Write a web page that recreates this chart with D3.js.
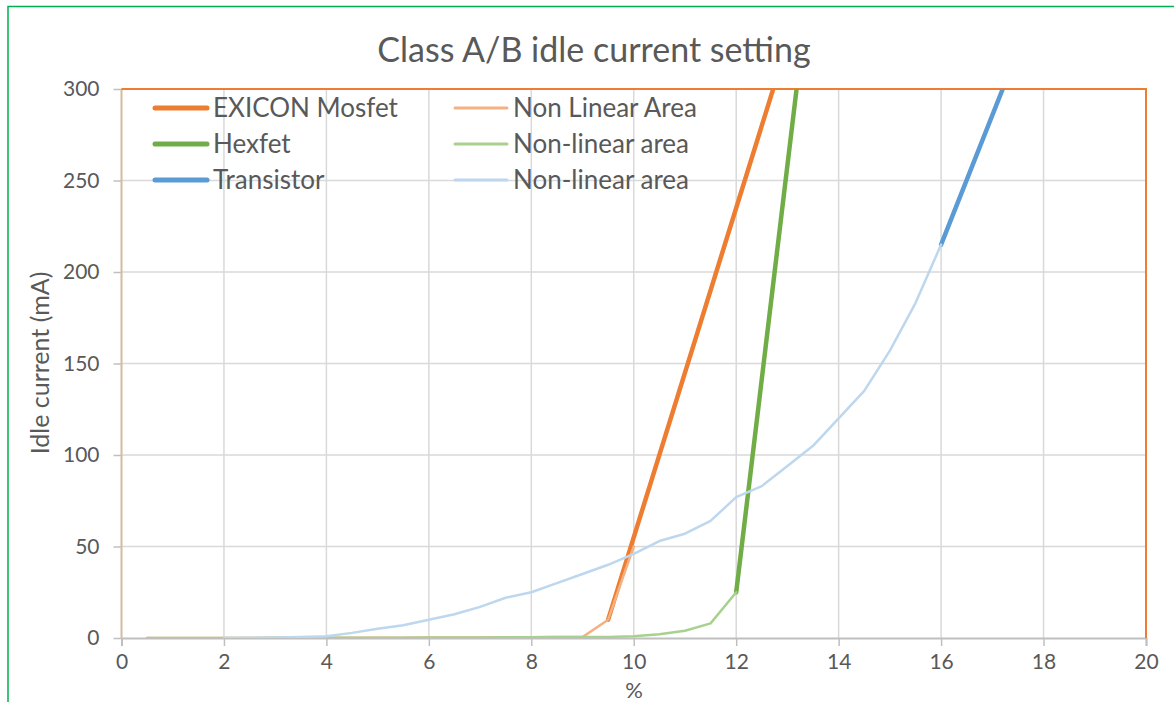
<!DOCTYPE html>
<html>
<head>
<meta charset="utf-8">
<script src="https://cdn.jsdelivr.net/npm/d3@7"></script>
<style>
  html, body { margin: 0; padding: 0; background: #fff; }
  svg { display: block; }
  text { font-family: Lato, "Carlito", "Liberation Sans", sans-serif; fill: #595959; }
</style>
</head>
<body>
<svg id="chart" width="1174" height="702"></svg>
<script>
// Series data: [percent, idle current mA]
const exiconMosfet = [[9.5, 10], [13, 325]];
const exiconNonLinear = [[0.5, 0], [1, 0], [1.5, 0], [2, 0], [2.5, 0], [3, 0.1], [3.5, 0.1], [4, 0.1], [4.5, 0.2], [5, 0.2], [5.5, 0.2], [6, 0.3], [6.5, 0.3], [7, 0.3], [7.5, 0.4], [8, 0.4], [8.5, 0.5], [9, 0.5], [9.5, 10], [10, 50]];
const hexfet = [[12, 25], [13.5, 375]];
const hexfetNonLinear = [[0.5, 0], [1, 0], [1.5, 0], [2, 0], [2.5, 0], [3, 0.1], [3.5, 0.1], [4, 0.1], [4.5, 0.2], [5, 0.2], [5.5, 0.2], [6, 0.3], [6.5, 0.3], [7, 0.3], [7.5, 0.4], [8, 0.4], [8.5, 0.5], [9, 0.5], [9.5, 0.6], [10, 1], [10.5, 2], [11, 4], [11.5, 8], [12, 25]];
const transistor = [[16, 215], [17.5, 321]];
const transistorNonLinear = [[2, 0], [2.5, 0.1], [3, 0.3], [3.5, 0.5], [4, 1], [4.5, 2.8], [5, 5], [5.5, 7], [6, 10], [6.5, 13], [7, 17], [7.5, 22], [8, 25], [8.5, 30], [9, 35], [9.5, 40], [10, 46], [10.5, 53], [11, 57], [11.5, 64], [12, 77], [12.5, 83], [13, 94], [13.5, 105], [14, 120], [14.5, 135], [15, 157], [15.5, 183], [16, 215]];

const seriesNames = ["EXICON Mosfet", "Non Linear Area", "Hexfet", "Non-linear area", "Transistor", "Non-linear area"];
const xTicks = [0, 2, 4, 6, 8, 10, 12, 14, 16, 18, 20];
const yTicks = [0, 50, 100, 150, 200, 250, 300];

const series = [
  { name: seriesNames[0], data: exiconMosfet, color: "#ED7D31", width: 4.5 },
  { name: seriesNames[1], data: exiconNonLinear, color: "#F4B183", width: 2.5 },
  { name: seriesNames[2], data: hexfet, color: "#70AD47", width: 4.5 },
  { name: seriesNames[3], data: hexfetNonLinear, color: "#A9D18E", width: 2.5 },
  { name: seriesNames[4], data: transistor, color: "#5B9BD5", width: 4.5 },
  { name: seriesNames[5], data: transistorNonLinear, color: "#BDD7EE", width: 2.5 }
];

const svg = d3.select("#chart");
const plot = { left: 121.5, right: 1146, top: 89, bottom: 638 };

const x = d3.scaleLinear().domain([0, 20]).range([plot.left, plot.right]);
const y = d3.scaleLinear().domain([0, 300]).range([plot.bottom, plot.top]);

// Outer frame
svg.append("path")
  .attr("d", "M8,710 L8,6.5 L1180,6.5")
  .attr("fill", "none").attr("stroke", "#00B050").attr("stroke-width", 1.5);

// Title
svg.append("text")
  .attr("x", 594).attr("y", 62)
  .attr("text-anchor", "middle")
  .attr("font-size", 34)
  .text("Class A/B idle current setting");

// Gridlines
svg.append("g")
  .selectAll("line.h").data(yTicks.filter(d => d > 0)).join("line")
  .attr("x1", plot.left).attr("x2", plot.right)
  .attr("y1", d => y(d)).attr("y2", d => y(d))
  .attr("stroke", "#D9D9D9").attr("stroke-width", 1.5);
svg.append("g")
  .selectAll("line.v").data(xTicks.filter(d => d > 0 && d < 20)).join("line")
  .attr("y1", plot.top).attr("y2", plot.bottom)
  .attr("x1", d => x(d)).attr("x2", d => x(d))
  .attr("stroke", "#D9D9D9").attr("stroke-width", 1.5);

// Axes
const xAxis = svg.append("g")
  .attr("transform", `translate(0,${plot.bottom})`)
  .call(d3.axisBottom(x).tickValues(xTicks).tickSize(8).tickPadding(8));
xAxis.select(".domain").attr("stroke", "#BFBFBF").attr("stroke-width", 2);
xAxis.selectAll(".tick line").attr("stroke", "#BFBFBF").attr("stroke-width", 1.5);
xAxis.selectAll(".tick text").attr("font-size", 21).attr("fill", "#595959")
  .attr("font-family", "Lato, Carlito, 'Liberation Sans', sans-serif");

const yAxis = svg.append("g")
  .attr("transform", `translate(${plot.left},0)`)
  .call(d3.axisLeft(y).tickValues(yTicks).tickSize(8).tickPadding(14));
yAxis.select(".domain").remove();
yAxis.selectAll(".tick line").attr("stroke", "#BFBFBF").attr("stroke-width", 1.5);
yAxis.selectAll(".tick text").attr("font-size", 21).attr("fill", "#595959")
  .attr("font-family", "Lato, Carlito, 'Liberation Sans', sans-serif");

// Plot-area border
svg.append("line")
  .attr("x1", plot.left).attr("x2", plot.left).attr("y1", plot.top).attr("y2", plot.bottom)
  .attr("stroke", "#D8B9A2").attr("stroke-width", 2);
svg.append("path")
  .attr("d", `M${plot.left},${plot.top} L${plot.right},${plot.top} L${plot.right},${plot.bottom}`)
  .attr("fill", "none").attr("stroke", "#ED7D31").attr("stroke-width", 2);

// Axis titles
svg.append("text")
  .attr("transform", `translate(49,363) rotate(-90)`)
  .attr("text-anchor", "middle")
  .attr("font-size", 25)
  .text("Idle current (mA)");
svg.append("text")
  .attr("x", 634).attr("y", 698)
  .attr("text-anchor", "middle")
  .attr("font-size", 22)
  .text("%");

// Series lines, clipped to the plot area
svg.append("clipPath").attr("id", "plotClip")
  .append("rect")
  .attr("x", plot.left).attr("y", plot.top)
  .attr("width", plot.right - plot.left).attr("height", plot.bottom - plot.top);

const line = d3.line().x(d => x(d[0])).y(d => y(d[1]));
svg.append("g").attr("clip-path", "url(#plotClip)")
  .selectAll("path").data(series).join("path")
  .attr("d", d => line(d.data))
  .attr("fill", "none")
  .attr("stroke", d => d.color)
  .attr("stroke-width", d => d.width)
  .attr("stroke-linejoin", "round")
  .attr("stroke-linecap", "round");

// Legend: two columns, three rows
const legend = svg.append("g");
const legendItems = legend.selectAll("g").data(series).join("g")
  .attr("transform", (d, i) => `translate(${i % 2 === 0 ? 155 : 455},${108 + Math.floor(i / 2) * 36})`);
legendItems.append("line")
  .attr("x1", 0).attr("x2", 52)
  .attr("stroke", d => d.color)
  .attr("stroke-width", d => d.width + 0.5)
  .attr("stroke-linecap", "round");
legendItems.append("text")
  .attr("x", 58).attr("y", 0).attr("dy", "0.35em")
  .attr("font-size", 26)
  .text(d => d.name);
</script>
</body>
</html>
